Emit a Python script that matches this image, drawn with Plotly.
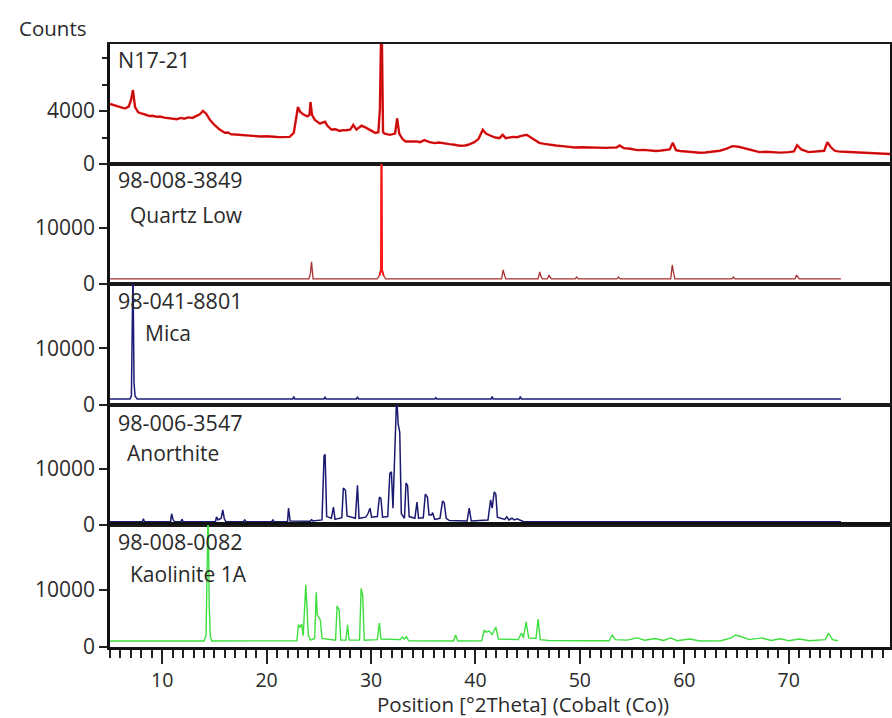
import plotly.graph_objects as go
from plotly.subplots import make_subplots

# ---------------- data ----------------
n17_x = [5.0, 5.3, 5.5, 5.8, 6.0, 6.3, 6.5, 6.8, 7.0, 7.2, 7.4, 7.7, 8.0, 8.2, 8.5, 8.8, 9.1, 9.5, 9.8, 10.2, 10.6,
         11.0, 11.4, 11.8, 12.1, 12.5, 12.9, 13.2, 13.6, 13.9,
         14.2, 14.6, 15.0, 15.5, 16.0, 16.3, 16.6, 17.0, 17.4, 17.9, 18.4, 18.9, 19.4, 20.0, 20.5, 21.0, 21.5, 22.2,
         22.6, 22.8, 23.0, 23.2, 23.5, 23.9, 24.1, 24.2, 24.35, 24.6, 25.1, 25.4, 25.6, 25.8, 26.2, 26.6, 27.0, 27.3,
         27.6, 28.0, 28.3, 28.6, 29.1, 29.5, 29.9, 30.4, 30.7, 30.85, 31.0, 31.05, 31.15, 31.3, 31.8, 32.3, 32.5,
         32.7, 33.0, 33.3, 33.7, 34.0, 34.4, 34.7, 35.1, 35.6, 36.1, 36.5, 36.8, 37.2, 37.5, 38.0, 38.5, 39.0, 39.3,
         39.9, 40.3, 40.7, 41.0, 41.4, 41.9, 42.3, 42.6, 42.9, 43.2, 43.6, 44.0, 44.3, 44.9, 45.4, 45.8, 46.1, 46.6,
         47.1, 47.7, 48.3, 48.9, 49.5, 50.2, 51.0, 51.7, 52.5, 53.0, 53.5, 53.8, 54.2, 54.8, 55.5, 56.1, 56.7, 57.3,
         57.8, 58.2, 58.6, 58.9, 59.2, 59.6, 60.0, 60.8, 61.5, 62.0, 62.5, 63.0, 63.4, 64.0, 64.6, 65.2, 65.7, 66.1,
         66.5, 67.2, 67.8, 68.5, 69.2, 70.0, 70.5, 70.8, 71.2, 71.9, 72.4, 72.8, 73.4, 73.7, 74.0, 74.4, 74.7, 75.3,
         75.8, 76.3, 76.8, 77.4, 78.0, 78.8, 79.7]
n17_y = [4530, 4450, 4380, 4300, 4250, 4220, 4200, 4350, 4800, 5580, 4300, 3900, 3820, 3750, 3700, 3620, 3640, 3560,
         3580, 3500, 3470, 3450, 3380, 3480, 3420, 3520, 3480, 3600, 3750, 4000,
         3800, 3300, 2950, 2600, 2350, 2380, 2250, 2230, 2200, 2170, 2150, 2100, 2080, 2090, 2050, 2040, 2030, 2050,
         2350, 3200, 4300, 3950, 3750, 3600, 3700, 4680, 3700, 3350, 3050, 3150, 3200, 2900, 2600, 2620, 2500, 2560,
         2550, 2600, 2950, 2600, 2900, 2750, 2550, 2350, 2400, 4150, 12000, 6700, 2400, 2300, 2200, 2300, 3450,
         2300, 1900, 1700, 1720, 1680, 1700, 1650, 1800, 1650, 1580, 1620, 1570, 1520, 1500, 1450, 1380, 1400, 1450,
         1650, 1900, 2580, 2300, 2150, 2000, 1950, 2200, 1950, 2000, 2050, 2020, 2100, 2200, 1950, 1700, 1600, 1520,
         1450, 1400, 1350, 1300, 1250, 1270, 1250, 1200, 1220, 1240, 1250, 1400, 1200, 1150, 1050, 1070, 1000, 980,
         1020, 1040, 1100, 1600, 1050, 980, 950, 900, 850, 870, 900, 950, 1000, 1150, 1350, 1300, 1200, 1100,
         1000, 900, 920, 880, 860, 900, 950, 1420, 1100, 900, 930, 920, 1000, 1650, 1300, 1000, 950, 920,
         900, 860, 830, 820, 800, 780, 750]

quartz_x = [5.0, 24.05, 24.2, 24.3, 24.45, 30.6, 30.8, 30.95, 31.0, 31.05, 31.2, 31.4, 42.5, 42.65, 42.75, 42.9,
            46.0, 46.15, 46.25, 46.4, 46.9, 47.05, 47.15, 47.3, 49.55, 49.7, 49.85, 53.55, 53.7, 53.85,
            58.7, 58.85, 58.95, 59.1, 64.55, 64.7, 64.85, 70.6, 70.75, 70.85, 71.0, 75.0]
quartz_y = [900, 900, 2000, 3950, 900, 900, 1500, 2500, 25000, 2500, 1500, 900, 900, 2500, 1800, 900,
            900, 2150, 1500, 900, 900, 1600, 1200, 900, 900, 1250, 900, 900, 1250, 900,
            900, 3400, 2200, 900, 900, 1250, 900, 900, 1600, 1200, 900, 900]

mica_x = [5.0, 6.9, 7.05, 7.15, 7.2, 7.3, 7.4, 7.6, 22.5, 22.6, 22.7, 25.5, 25.6, 25.7, 28.6, 28.7, 28.8,
          36.1, 36.2, 36.3, 41.5, 41.6, 41.7, 44.2, 44.3, 44.4, 75.0]
mica_y = [1050, 1050, 1600, 14000, 24000, 4000, 1600, 1050, 1050, 1500, 1050, 1050, 1450, 1050, 1050, 1450, 1050,
          1050, 1300, 1050, 1050, 1500, 1050, 1050, 1500, 1050, 1050]

anor_x = [5.0, 8.1, 8.2, 8.3, 10.8, 10.9, 11.05, 11.2, 11.8, 11.9, 12.0, 15.1, 15.2, 15.35, 15.65, 15.8, 15.95, 16.1,
          17.8, 17.9, 18.0, 20.5, 20.6, 20.7, 22.0, 22.1, 22.25, 24.2, 24.3, 24.4, 25.3, 25.5, 25.6, 25.75,
          26.2, 26.4, 26.55, 27.2, 27.35, 27.55, 27.7, 28.5, 28.7, 28.85, 29.5, 29.7, 29.9, 30.05,
          30.6, 30.8, 30.95, 31.1, 31.6, 31.8, 31.95, 32.1, 32.25, 32.45, 32.6, 32.75, 32.9,
          33.2, 33.35, 33.5, 33.65, 34.2, 34.4, 34.55, 35.0, 35.2, 35.4, 35.55, 35.8, 35.9, 36.1,
          36.6, 36.85, 37.0, 37.2, 37.5, 39.2, 39.4, 39.6, 41.2, 41.45, 41.6, 41.8, 41.95, 42.1,
          42.8, 43.0, 43.2, 43.5, 43.7, 44.0, 44.3, 44.6, 75.0]
anor_y = [600, 600, 1100, 600, 600, 2000, 900, 600, 600, 1000, 600, 600, 1450, 900, 1200, 2700, 1100, 600,
          600, 950, 600, 600, 950, 600, 600, 3000, 700, 650, 1000, 700, 900, 12300, 12600, 1500,
          1200, 3200, 1000, 1300, 6600, 6200, 1600, 1200, 7100, 1200, 1400, 2000, 3000, 1400,
          1500, 5000, 4700, 1400, 1500, 9200, 9500, 3000, 11600, 23000, 18000, 16500, 2000,
          1200, 7500, 7000, 1500, 1200, 4100, 1200, 1300, 5500, 5000, 1800, 1800, 2200, 1000,
          1200, 4300, 4000, 1200, 800, 700, 3000, 700, 900, 4500, 3000, 5900, 5500, 1400,
          1000, 1450, 900, 1200, 900, 1100, 800, 600, 600]

kaol_x = [5.0, 14.0, 14.2, 14.3, 14.4, 14.5, 14.6, 14.75, 22.9, 23.05, 23.2, 23.35, 23.5, 23.75, 23.85, 24.0, 24.2,
          24.6, 24.75, 24.85, 25.0, 25.15, 25.3, 26.6, 26.75, 26.95, 27.1, 27.6, 27.75, 27.9,
          28.9, 29.05, 29.2, 29.35, 30.6, 30.8, 30.95, 32.8, 33.0, 33.2, 33.4, 33.6, 37.9, 38.1, 38.3,
          40.6, 40.85, 41.0, 41.3, 41.6, 41.95, 42.2, 44.1, 44.4, 44.6, 44.85, 45.1, 45.8, 46.0, 46.2,
          47.0, 49.0, 50.5, 52.8, 53.1, 53.4, 54.5, 55.5, 56.2, 57.2, 58.0, 58.7, 59.3, 60.5, 61.5,
          63.5, 64.5, 64.9, 65.5, 66.2, 67.4, 68.3, 69.2, 70.0, 71.0, 72.0, 73.5, 73.8, 74.2, 74.7]
kaol_y = [1050, 1050, 2000, 10900, 25000, 7400, 2000, 1050, 1100, 3900, 3500, 4000, 2000, 10900, 6800, 2000, 1200,
          1500, 9600, 5600, 5200, 4700, 1500, 1200, 7200, 6500, 1200, 1200, 3900, 1200,
          1200, 10300, 9000, 1200, 1300, 4200, 1400, 1300, 1750, 1400, 1800, 1100, 1050, 2100, 1050,
          1100, 3000, 2600, 2800, 2200, 3500, 1400, 1300, 2450, 1600, 4400, 1600, 1500, 4900, 1300,
          1150, 1050, 1100, 1100, 2100, 1300, 1200, 1600, 1200, 1500, 1150, 1600, 1100, 1400, 1050,
          1100, 1600, 2100, 1800, 1300, 1600, 1150, 1450, 1100, 1400, 1100, 1300, 2450, 1300, 1100]

panel_codes = ["N17-21", "98-008-3849", "98-041-8801", "98-006-3547", "98-008-0082"]
panel_names = ["", "Quartz Low", "Mica", "Anorthite", "Kaolinite 1A"]
x_ticks = [10, 20, 30, 40, 50, 60, 70]
top_ticks = [0, 4000]
low_ticks = [0, 10000]

# ---------------- figure ----------------
FONT = "Open Sans"
TXT = "#2a2a2a"

fig = make_subplots(rows=5, cols=1, shared_xaxes=True, vertical_spacing=0)

fig.add_trace(go.Scatter(x=n17_x, y=n17_y, mode="lines", line=dict(color="#ee1111", width=2.4)), row=1, col=1)
fig.add_trace(go.Scatter(x=n17_x, y=n17_y, mode="lines", opacity=0.6,
                         line=dict(color="#5a0808", width=0.7)), row=1, col=1)

fig.add_trace(go.Scatter(x=quartz_x, y=quartz_y, mode="lines", line=dict(color="#a83030", width=1.3)), row=2, col=1)
fig.add_trace(go.Scatter(x=quartz_x[6:11], y=quartz_y[6:11], mode="lines", line=dict(color="#ff1a1a", width=2)), row=2, col=1)

fig.add_trace(go.Scatter(x=mica_x, y=mica_y, mode="lines", line=dict(color="#1c1c78", width=1.5)), row=3, col=1)
fig.add_trace(go.Scatter(x=anor_x, y=anor_y, mode="lines", line=dict(color="#1a1a70", width=1.5)), row=4, col=1)
fig.add_trace(go.Scatter(x=kaol_x, y=kaol_y, mode="lines", line=dict(color="#3ede3e", width=1.4)), row=5, col=1)

H = 603.0
bounds_px = [(44, 164), (164, 284), (284, 405), (405, 525), (525, 647)]
for i, (t, b) in enumerate(bounds_px):
    dom = [(647 - b) / H, (647 - t) / H]
    yname = "yaxis" if i == 0 else f"yaxis{i+1}"
    xname = "xaxis" if i == 0 else f"xaxis{i+1}"
    if i == 0:
        yax = dict(range=[0, 9060], tickvals=top_ticks, ticktext=[str(v) for v in top_ticks],
                   minor=dict(tickvals=[2000, 6000, 8000], ticklen=5, ticks="outside", tickcolor="#222", tickwidth=1.5))
    else:
        yax = dict(range=[0, 21400], tickvals=low_ticks, ticktext=[str(v) for v in low_ticks])
    yax.update(domain=dom, showline=True, mirror=True, linecolor="#111", linewidth=2.5,
               ticks="outside", ticklen=8, tickwidth=2, tickcolor="#222", showgrid=False, zeroline=False,
               tickfont=dict(family=FONT, size=21, color=TXT))
    fig.layout[yname].update(yax)
    xax = dict(range=[5, 79.7], showline=True, mirror=True, linecolor="#1a1a1a", linewidth=2,
               showgrid=False, zeroline=False)
    if i == 4:
        xax.update(tickvals=x_ticks, ticks="outside", ticklen=14, tickwidth=2, tickcolor="#222",
                   showticklabels=True, tickfont=dict(family=FONT, size=19.5, color=TXT),
                   minor=dict(dtick=1, tick0=0, ticks="outside", ticklen=8, tickwidth=1.5, tickcolor="#222"),
                   linewidth=2.5, linecolor="#111")
    else:
        xax.update(ticks="", showticklabels=False)
    fig.layout[xname].update(xax)

annotations = []
label_px = [(116, 60, 116, None), (116, 180, 128, 215), (116, 301, 143, 333), (116, 422, 125, 453), (116, 541, 128, 574)]
for i, (cx, cy, nx, ny) in enumerate(label_px):
    annotations.append(dict(x=(cx - 110) / 780.0, y=(647 - cy) / H, xref="paper", yref="paper",
                            text=panel_codes[i], showarrow=False, xanchor="left", yanchor="middle",
                            font=dict(family=FONT, size=21.5, color=TXT)))
    if ny is not None:
        annotations.append(dict(x=(nx - 110) / 780.0, y=(647 - ny) / H, xref="paper", yref="paper",
                                text=panel_names[i], showarrow=False, xanchor="left", yanchor="middle",
                                font=dict(family=FONT, size=21, color=TXT)))
annotations.append(dict(x=(17 - 110) / 780.0, y=(647 - 28) / H, xref="paper", yref="paper", text="Counts",
                        showarrow=False, xanchor="left", yanchor="middle",
                        font=dict(family=FONT, size=20.5, color=TXT)))
annotations.append(dict(x=(523 - 110) / 780.0, y=(647 - 704) / H, xref="paper", yref="paper",
                        text="Position [°2Theta] (Cobalt (Co))", showarrow=False, xanchor="center",
                        yanchor="middle", borderpad=0, font=dict(family=FONT, size=20.5, color=TXT)))

fig.update_layout(width=892, height=718, showlegend=False, paper_bgcolor="white", plot_bgcolor="white",
                  margin=dict(l=110, r=2, t=44, b=71, autoexpand=False), annotations=annotations)

fig.write_html("out.html")
